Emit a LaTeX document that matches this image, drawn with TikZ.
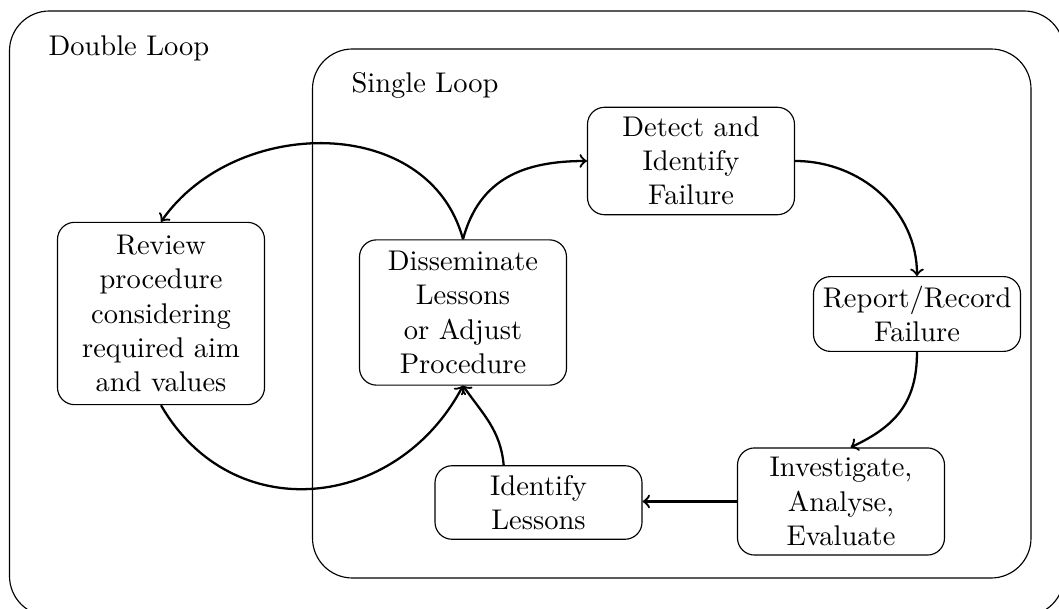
\documentclass[tikz,border=0pt]{standalone}
\begin{document}
\begin{tikzpicture}[x=0.351pt,y=0.351pt,
  box/.style={draw, rounded corners=6pt, align=center, text width=66pt, inner sep=3.33pt, font=\fontsize{10}{12}\selectfont},
  frame/.style={draw, rounded corners=14pt},
  flow/.style={->, thick},
  title/.style={anchor=base west, inner sep=0pt, font=\fontsize{10}{12}\selectfont}]
\useasboundingbox (0,0) rectangle (1059,609);
\clip (0,0) rectangle (1059,609);

% outer and inner loops
\draw[frame] (9.5,-7) rectangle (1064,598);
\draw[frame] (312.5,31) rectangle (1031,560);
\node[title] (dbl) at (48,553) {Double Loop};
\node[title] (sgl) at (351,516) {Single Loop};

% process steps
\node[box] (detect) at (691,448) {Detect and Identify Failure};
\node[box] (report) at (917,295) {Report/Record Failure};
\node[box] (invest) at (841,107.5) {Investigate, Analyse, Evaluate};
\node[box] (ident)  at (538.5,106.5) {Identify Lessons};
\node[box, minimum height=51pt] (dissem) at (463,296.5) {Disseminate Lessons or Adjust Procedure};
\node[box, minimum height=64pt] (review) at (161,295.5) {Review procedure considering required aim and values};

% single loop
\draw[flow] (dissem.north) to[out=75,in=180,looseness=1.1] (detect.west);
\draw[flow] (detect.east) to[out=0,in=90] (report.north);
\draw[flow] (report.south) to[out=-90,in=25,looseness=1.1] (invest.80);
\draw[flow] (invest.west) -- (invest.west -| ident.east);
\draw[flow] (ident.133) to[out=95,in=-55] (dissem.south);

% double loop
\draw[flow] (dissem.north) to[out=105,in=55,looseness=1.1] (review.north);
\draw[flow] (review.south) to[out=-60,in=-118,looseness=1.2] (dissem.south);
\end{tikzpicture}
\end{document}
